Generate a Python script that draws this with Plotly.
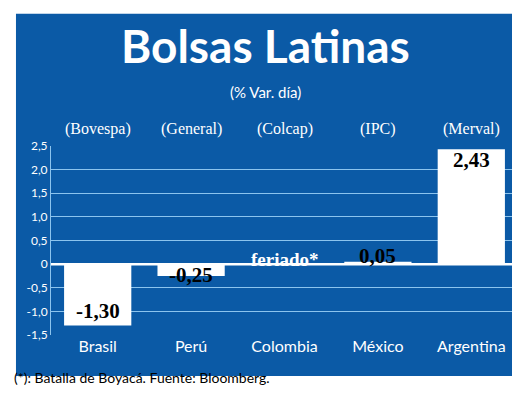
import plotly.graph_objects as go

paises = ["Brasil", "Perú", "Colombia", "México", "Argentina"]
indices = ["(Bovespa)", "(General)", "(Colcap)", "(IPC)", "(Merval)"]
variacion = [-1.30, -0.25, 0.0, 0.05, 2.43]
etiquetas = ["-1,30", "-0,25", "feriado*", "0,05", "2,43"]
ticks = [2.5, 2.0, 1.5, 1.0, 0.5, 0, -0.5, -1.0, -1.5]
tick_text = ["2,5", "2,0", "1,5", "1,0", "0,5", "0", "-0,5", "-1,0", "-1,5"]

azul = "#0b5aa6"
fig = go.Figure()
fig.add_trace(go.Bar(x=paises, y=variacion, marker=dict(color="white", line=dict(width=0)),
                     width=0.72, showlegend=False))

# value labels
for p, v, t in zip(paises, variacion, etiquetas):
    if t == "feriado*":
        fig.add_annotation(x=p, y=0.1, text="<b>" + t + "</b>", showarrow=False,
                           font=dict(family="Liberation Serif", size=19, color="white"))
    else:
        if v < -0.5:
            y, anchor = v + 0.02, "bottom"
        elif v < 0:
            y, anchor = v + 0.02, "middle"
        elif v < 0.5:
            y, anchor = v + 0.12, "middle"
        else:
            y, anchor = v - 0.23, "middle"
        fig.add_annotation(x=p, y=y, text="<b>" + t + "</b>", showarrow=False, yanchor=anchor,
                           font=dict(family="Liberation Serif", size=21, color="black"))

for p, h in zip(paises, indices):
    fig.add_annotation(x=p, y=1.0, yref="paper", yshift=28, text=h, showarrow=False,
                       font=dict(family="Liberation Serif", size=16, color="white"))

fig.add_shape(type="rect", xref="paper", yref="paper", x0=-0.075, x1=1.0, y0=-0.217, y1=1.70,
              fillcolor=azul, line=dict(width=0), layer="below")
fig.add_shape(type="line", xref="paper", yref="y", x0=0, x1=1, y0=0, y1=0,
              line=dict(color="white", width=2.5))

fig.add_annotation(xref="paper", yref="paper", x=0.46, y=1.53, text="<b>Bolsas Latinas</b>",
                   showarrow=False, yanchor="middle",
                   font=dict(family="Lato", size=46, color="white"))
fig.add_annotation(xref="paper", yref="paper", x=0.46, y=1.344, text="(% Var. día)",
                   showarrow=False, font=dict(family="Lato", size=15, color="white"))
fig.add_annotation(xref="paper", yref="paper", x=-0.083, y=-0.28, xanchor="left",
                   text="(*): Batalla de Boyacá. Fuente: Bloomberg.", showarrow=False,
                   font=dict(family="Lato", size=14, color="black"))

fig.update_layout(
    width=520, height=405,
    margin=dict(l=43, r=10, t=138, b=78),
    paper_bgcolor="white", plot_bgcolor=azul,
    bargap=0.28,
    xaxis=dict(tickfont=dict(family="Lato", size=16, color="white"), showgrid=False,
               ticks="", zeroline=False),
    yaxis=dict(range=[-1.5, 2.5], tickvals=ticks, ticktext=tick_text,
               tickfont=dict(family="Lato", size=12, color="white"),
               gridcolor="#8cc4ee", gridwidth=1, zeroline=False,
               showline=True, linecolor="#8cc4ee", ticks=""),
)
fig.write_html("out.html")
